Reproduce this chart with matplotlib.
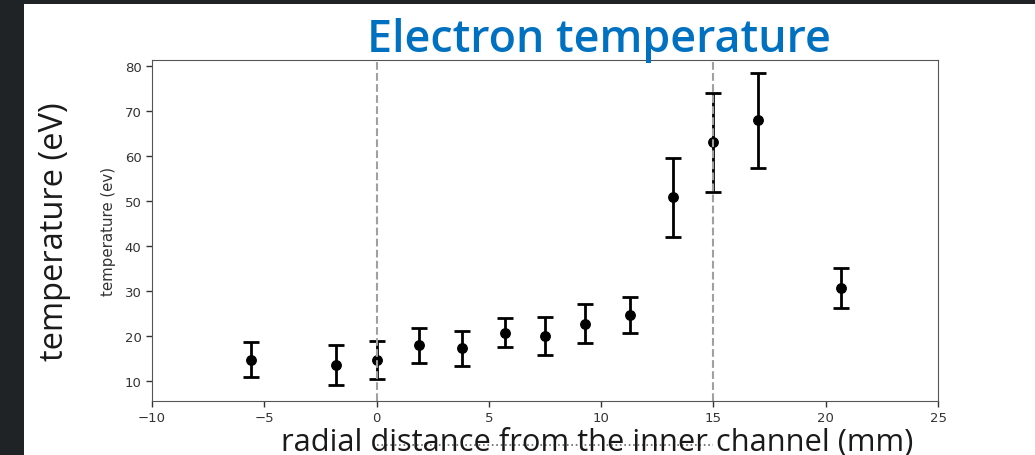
import matplotlib
matplotlib.use("Agg")
import matplotlib.pyplot as plt
import matplotlib.transforms as mtransforms
from matplotlib.patches import Rectangle

# radial position (mm), electron temperature (eV) and its error
radial_mm = [-5.6, -1.8, 0.0, 1.9, 3.8, 5.7, 7.5, 9.3, 11.3, 13.2, 15.0, 17.0, 20.7]
temp_ev = [14.8, 13.6, 14.7, 18.0, 17.3, 20.8, 20.1, 22.8, 24.7, 50.8, 63.0, 67.9, 30.7]
temp_err = [3.9, 4.4, 4.3, 3.9, 3.9, 3.3, 4.2, 4.4, 4.1, 8.7, 11.0, 10.5, 4.5]

wall_positions = [0, 15]
x_ticks = [-10, -5, 0, 5, 10, 15, 20, 25]
y_ticks = [10, 20, 30, 40, 50, 60, 70, 80]

slide_font = ["Open Sans", "DejaVu Sans"]

fig = plt.figure(figsize=(10.35, 4.56), dpi=100, facecolor="#202326")
# white slide area
fig.patches.append(Rectangle((24 / 1035, 0), 1, (456 - 5) / 456,
                             transform=fig.transFigure, facecolor="white",
                             edgecolor="none", zorder=-1))

ax = fig.add_axes([0.1469, 0.1184, 0.7594, 0.7478])
ax.errorbar(radial_mm, temp_ev, yerr=temp_err, fmt="o", color="black",
            ms=6.8, elinewidth=2.0, capsize=5.5, capthick=2.0)
for xw in wall_positions:
    ax.axvline(xw, color="#a0a0a0", ls="--", lw=1.5, zorder=5)

ax.set_xlim(-10, 25)
ax.set_ylim(5.6, 81.3)
ax.set_xticks(x_ticks)
ax.set_yticks(y_ticks)
ax.tick_params(labelsize=9.5, colors="#333333", length=4, width=1)
for s in ax.spines.values():
    s.set_color("#555555")
ax.set_ylabel("temperature (ev)", fontsize=10.8, color="#333333", labelpad=6)

# slide text around the plot
fig.text(0.5787, 0.886, "Electron temperature", fontsize=32.3, color="#0070C0",
         family=slide_font, ha="center", va="baseline", fontweight="semibold")
fig.text(0.053, 0.493, "temperature (eV)", fontsize=23.5, color="#1a1a1a",
         family=slide_font, rotation=90, ha="center", va="center")
fig.text(0.5768, 0.012, "radial distance from the inner channel (mm)", fontsize=22.2,
         color="#1a1a1a", family=slide_font, ha="center", va="baseline")

# dotted line between the channel walls under the x label
blend = mtransforms.blended_transform_factory(ax.transData, fig.transFigure)
fig.add_artist(plt.Line2D(wall_positions, [0.022, 0.022], transform=blend,
                          color="#666666", ls=":", lw=1.2))

fig.savefig("out.png", dpi=100, facecolor=fig.get_facecolor())
